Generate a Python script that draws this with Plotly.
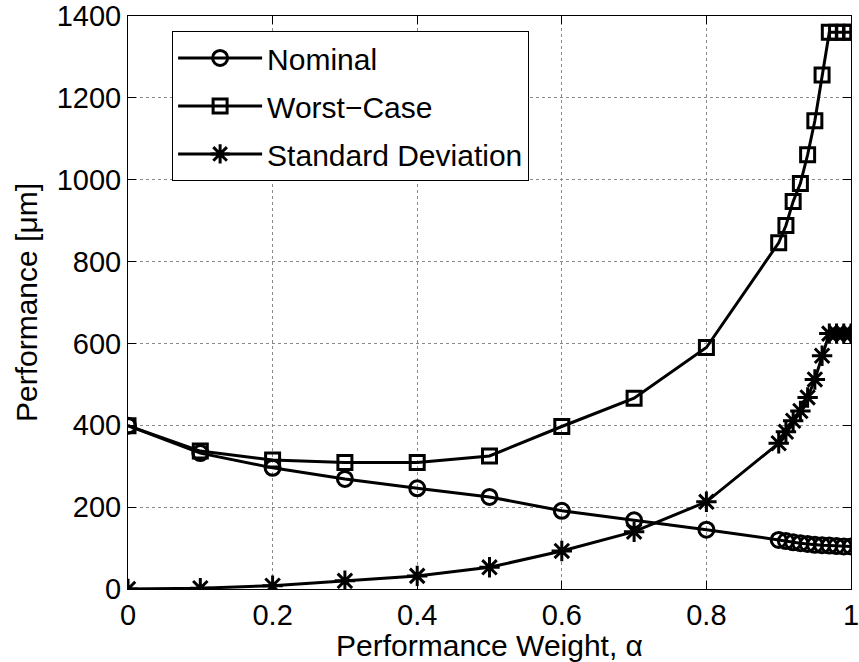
import plotly.graph_objects as go

alpha = [0, 0.1, 0.2, 0.3, 0.4, 0.5, 0.6, 0.7, 0.8, 0.9,
         0.91, 0.92, 0.93, 0.94, 0.95, 0.96, 0.97, 0.98, 0.99, 1.0]
nominal = [399, 332, 296, 269, 246, 225, 191, 168, 145, 120,
           117, 114, 112, 110, 108, 107, 106, 105, 104, 104]
worst_case = [399, 337, 315, 309, 309, 325, 397, 466, 590, 846,
              888, 947, 991, 1061, 1144, 1256, 1360, 1360, 1360, 1360]
std_dev = [0, 2, 8, 20, 32, 53, 93, 140, 213, 356,
           384, 411, 435, 468, 512, 570, 624, 624, 624, 624]

series_names = ["Nominal", "Worst\u2212Case", "Standard Deviation"]
x_ticks = [0, 0.2, 0.4, 0.6, 0.8, 1.0]
x_tick_labels = ["0", "0.2", "0.4", "0.6", "0.8", "1"]
y_ticks = [0, 200, 400, 600, 800, 1000, 1200, 1400]

FONT = "Liberation Sans, Arial, Helvetica, sans-serif"

fig = go.Figure()
specs = [
    (nominal, "circle-open", 15),
    (worst_case, "square-open", 14),
    (std_dev, "asterisk-open", 17),
]
for i, (ys, sym, sz) in enumerate(specs):
    fig.add_trace(go.Scatter(
        x=alpha, y=ys, mode="lines+markers", name=series_names[i],
        legendgroup=f"g{i}",
        line=dict(color="black", width=3),
        marker=dict(symbol=sym, size=sz, color="black",
                    line=dict(color="black", width=3)),
    ))

axis_common = dict(
    showline=True, linecolor="black", linewidth=1, mirror="ticks",
    ticks="inside", ticklen=8, tickcolor="black", tickwidth=1,
    showgrid=True, gridcolor="#8a8a8a", griddash="dot", gridwidth=1,
    zeroline=False, automargin=False, ticklabeloverflow="allow",
    tickfont=dict(family=FONT, size=29, color="black"),
)

fig.update_layout(
    width=859, height=662,
    margin=dict(l=128, r=8, t=16, b=73),
    paper_bgcolor="white", plot_bgcolor="white",
    font=dict(family=FONT, size=29, color="black"),
    showlegend=True,
    legend=dict(
        x=0.061, y=0.974, xanchor="left", yanchor="top",
        bgcolor="white", bordercolor="black", borderwidth=1,
        font=dict(family=FONT, size=30, color="black"),
        itemwidth=84, tracegroupgap=6, traceorder="grouped",
    ),
    xaxis=dict(
        range=[0, 1], tickvals=x_ticks, ticktext=x_tick_labels,
        title=dict(text="Performance Weight, \u03b1", standoff=6,
                   font=dict(family=FONT, size=30)),
        **axis_common,
    ),
    yaxis=dict(
        range=[0, 1400], tickvals=y_ticks,
        title=dict(text="Performance [\u03bcm]", standoff=10,
                   font=dict(family=FONT, size=30)),
        **axis_common,
    ),
)

fig.write_html("out.html")
